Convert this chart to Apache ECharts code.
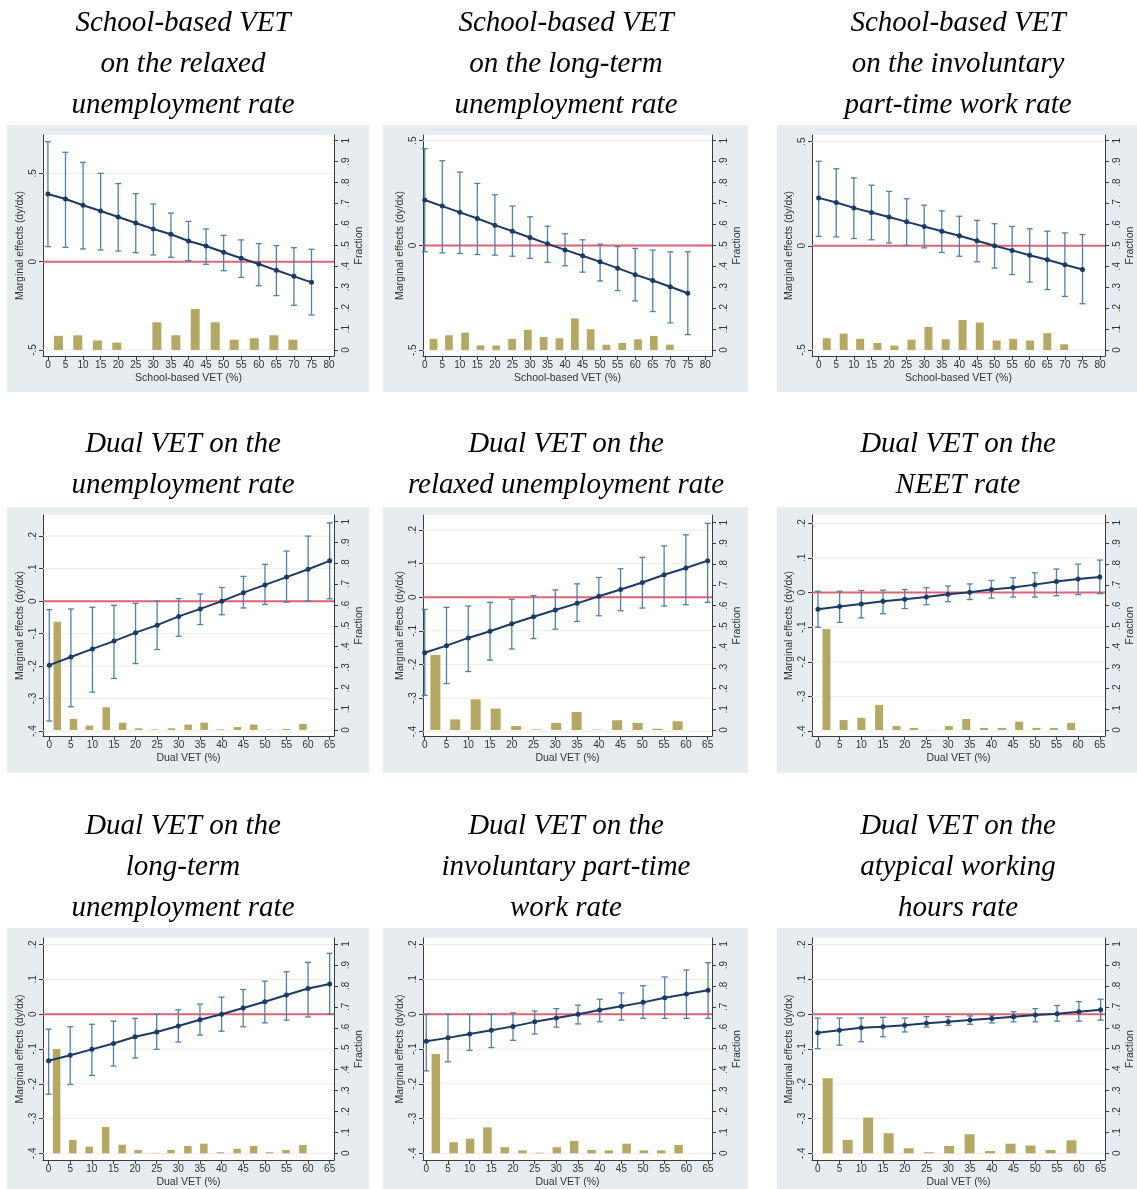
<!DOCTYPE html>
<html>
<head>
<meta charset="UTF-8">
<title>Marginal effects of school-based and dual VET</title>
<script src="https://cdn.jsdelivr.net/npm/echarts@6/dist/echarts.min.js"></script>
<style>
  html, body { margin: 0; padding: 0; background: #fff; }
  #chart { width: 1137px; height: 1189px; }
</style>
</head>
<body>
<div id="chart"></div>
<script>
// x positions of the estimates
var schoolX = [0, 5, 10, 15, 20, 25, 30, 35, 40, 45, 50, 55, 60, 65, 70, 75];
var dualX = [0, 5, 10, 15, 20, 25, 30, 35, 40, 45, 50, 55, 60, 65];

// tick labels
var schoolXTicks = [0, 5, 10, 15, 20, 25, 30, 35, 40, 45, 50, 55, 60, 65, 70, 75, 80];
var dualXTicks = [0, 5, 10, 15, 20, 25, 30, 35, 40, 45, 50, 55, 60, 65];
var schoolYTicks = [-0.5, 0, 0.5];
var dualYTicks = [-0.4, -0.3, -0.2, -0.1, 0, 0.1, 0.2];
var fracTicks = [0, 0.1, 0.2, 0.3, 0.4, 0.5, 0.6, 0.7, 0.8, 0.9, 1];

// 1. school-based VET -> relaxed unemployment
var p1Mean  = [0.383, 0.355, 0.319, 0.287, 0.253, 0.219, 0.185, 0.155, 0.117, 0.089, 0.053, 0.019, -0.013, -0.049, -0.083, -0.117];
var p1Upper = [0.679, 0.619, 0.562, 0.500, 0.442, 0.385, 0.326, 0.275, 0.228, 0.185, 0.149, 0.123, 0.102, 0.091, 0.079, 0.070];
var p1Lower = [0.085, 0.081, 0.072, 0.066, 0.060, 0.051, 0.038, 0.025, 0.006, -0.015, -0.051, -0.089, -0.136, -0.192, -0.247, -0.302];
var p1Bins  = [3.0, 8.5, 14.1, 19.6, 31.0, 36.4, 41.9, 47.6, 53.0, 58.7, 64.3, 69.7];
var p1Frac  = [0.067, 0.070, 0.045, 0.035, 0.132, 0.070, 0.196, 0.132, 0.049, 0.056, 0.070, 0.049];

// 2. school-based VET -> long-term unemployment
var p2Mean  = [0.217, 0.188, 0.158, 0.129, 0.097, 0.068, 0.038, 0.008, -0.021, -0.049, -0.078, -0.108, -0.139, -0.167, -0.197, -0.228];
var p2Upper = [0.462, 0.404, 0.350, 0.296, 0.242, 0.188, 0.137, 0.092, 0.056, 0.027, 0.006, -0.005, -0.014, -0.022, -0.030, -0.030];
var p2Lower = [-0.030, -0.035, -0.038, -0.043, -0.046, -0.051, -0.061, -0.080, -0.097, -0.127, -0.169, -0.215, -0.264, -0.315, -0.369, -0.425];
var p2Bins  = [2.5, 6.9, 11.5, 15.9, 20.4, 24.9, 29.4, 33.9, 38.4, 42.8, 47.3, 51.8, 56.3, 60.8, 65.3, 69.9];
var p2Frac  = [0.053, 0.070, 0.083, 0.022, 0.021, 0.053, 0.096, 0.062, 0.056, 0.151, 0.099, 0.025, 0.033, 0.051, 0.067, 0.025];

// 3. school-based VET -> involuntary part-time
var p3Mean  = [0.230, 0.208, 0.182, 0.160, 0.138, 0.115, 0.093, 0.070, 0.048, 0.024, 0.000, -0.022, -0.045, -0.067, -0.091, -0.114];
var p3Upper = [0.406, 0.370, 0.326, 0.291, 0.261, 0.226, 0.195, 0.168, 0.142, 0.122, 0.106, 0.093, 0.082, 0.070, 0.062, 0.054];
var p3Lower = [0.045, 0.043, 0.035, 0.029, 0.013, 0.002, -0.010, -0.032, -0.050, -0.077, -0.107, -0.138, -0.174, -0.210, -0.243, -0.278];
var p3Bins  = [2.3, 7.1, 11.8, 16.7, 21.5, 26.4, 31.2, 36.1, 40.9, 45.8, 50.6, 55.3, 60.1, 65.0, 69.8];
var p3Frac  = [0.056, 0.078, 0.053, 0.033, 0.021, 0.049, 0.110, 0.051, 0.143, 0.131, 0.045, 0.053, 0.045, 0.080, 0.027];

// 4. dual VET -> unemployment
var p4Mean  = [-0.197, -0.172, -0.147, -0.123, -0.097, -0.074, -0.047, -0.024, 0.000, 0.026, 0.050, 0.074, 0.098, 0.124];
var p4Upper = [-0.026, -0.024, -0.019, -0.013, -0.007, 0.000, 0.008, 0.022, 0.042, 0.076, 0.113, 0.154, 0.200, 0.241];
var p4Lower = [-0.369, -0.325, -0.280, -0.238, -0.192, -0.149, -0.108, -0.072, -0.042, -0.021, -0.010, -0.003, 0.000, 0.007];
var p4Bins  = [1.85, 5.6, 9.3, 13.2, 17.0, 20.7, 24.5, 28.3, 32.2, 35.9, 39.7, 43.6, 47.4, 51.1, 54.9, 58.8];
var p4Frac  = [0.520, 0.053, 0.021, 0.109, 0.035, 0.008, 0.003, 0.008, 0.026, 0.035, 0.003, 0.014, 0.026, 0.002, 0.005, 0.029];

// 5. dual VET -> relaxed unemployment
var p5Mean  = [-0.165, -0.144, -0.121, -0.101, -0.079, -0.058, -0.038, -0.018, 0.003, 0.023, 0.044, 0.067, 0.087, 0.109];
var p5Upper = [-0.036, -0.030, -0.026, -0.015, -0.006, 0.005, 0.022, 0.040, 0.059, 0.085, 0.119, 0.153, 0.186, 0.220];
var p5Lower = [-0.292, -0.257, -0.221, -0.187, -0.154, -0.123, -0.095, -0.072, -0.055, -0.040, -0.032, -0.026, -0.022, -0.015];
var p5Bins  = [2.45, 7.0, 11.7, 16.3, 21.0, 25.6, 30.2, 34.9, 39.5, 44.2, 48.9, 53.5, 58.1];
var p5Frac  = [0.362, 0.051, 0.148, 0.103, 0.019, 0.003, 0.034, 0.087, 0.002, 0.047, 0.034, 0.006, 0.042];

// 6. dual VET -> NEET
var p6Mean  = [-0.048, -0.040, -0.033, -0.025, -0.019, -0.013, -0.005, 0.001, 0.009, 0.015, 0.023, 0.032, 0.039, 0.045];
var p6Upper = [0.004, 0.004, 0.006, 0.007, 0.009, 0.014, 0.019, 0.025, 0.035, 0.043, 0.057, 0.068, 0.082, 0.094];
var p6Lower = [-0.100, -0.086, -0.073, -0.061, -0.046, -0.035, -0.026, -0.020, -0.016, -0.013, -0.013, -0.009, -0.006, -0.003];
var p6Bins  = [1.96, 5.9, 10.0, 14.1, 18.1, 22.1, 26.2, 30.2, 34.2, 38.3, 42.4, 46.4, 50.4, 54.4, 58.4];
var p6Frac  = [0.487, 0.048, 0.059, 0.121, 0.019, 0.010, 0.001, 0.019, 0.053, 0.010, 0.010, 0.040, 0.010, 0.010, 0.034];

// 7. dual VET -> long-term unemployment
var p7Mean  = [-0.134, -0.118, -0.101, -0.084, -0.065, -0.051, -0.034, -0.016, 0.000, 0.018, 0.036, 0.055, 0.074, 0.087];
var p7Upper = [-0.043, -0.036, -0.029, -0.020, -0.012, 0.000, 0.013, 0.029, 0.049, 0.071, 0.095, 0.122, 0.149, 0.175];
var p7Lower = [-0.230, -0.202, -0.176, -0.149, -0.126, -0.101, -0.080, -0.060, -0.049, -0.036, -0.025, -0.017, -0.008, 0.000];
var p7Bins  = [1.85, 5.6, 9.4, 13.2, 17.0, 20.7, 24.5, 28.3, 32.2, 35.9, 39.7, 43.6, 47.4, 51.1, 54.9, 58.8];
var p7Frac  = [0.498, 0.064, 0.032, 0.126, 0.041, 0.016, 0.002, 0.016, 0.035, 0.046, 0.005, 0.022, 0.035, 0.005, 0.016, 0.040];

// 8. dual VET -> involuntary part-time
var p8Mean  = [-0.078, -0.068, -0.057, -0.046, -0.035, -0.022, -0.011, 0.000, 0.012, 0.023, 0.034, 0.047, 0.058, 0.069];
var p8Upper = [0.000, 0.000, 0.000, 0.000, 0.004, 0.009, 0.016, 0.026, 0.043, 0.061, 0.082, 0.107, 0.127, 0.148];
var p8Lower = [-0.163, -0.137, -0.104, -0.096, -0.075, -0.057, -0.037, -0.028, -0.022, -0.017, -0.012, -0.012, -0.012, -0.012];
var p8Bins  = [2.2, 6.3, 10.1, 14.1, 18.1, 22.2, 26.1, 30.1, 34.1, 38.1, 42.1, 46.2, 50.2, 54.2, 58.2];
var p8Frac  = [0.475, 0.053, 0.070, 0.124, 0.029, 0.014, 0.003, 0.029, 0.059, 0.016, 0.014, 0.046, 0.014, 0.014, 0.040];

// 9. dual VET -> atypical working hours
var p9Mean  = [-0.053, -0.046, -0.039, -0.036, -0.032, -0.026, -0.022, -0.017, -0.012, -0.007, -0.002, 0.001, 0.007, 0.013];
var p9Upper = [-0.011, -0.011, -0.011, -0.009, -0.011, -0.007, -0.007, -0.005, -0.003, 0.007, 0.016, 0.025, 0.036, 0.043];
var p9Lower = [-0.099, -0.089, -0.079, -0.065, -0.051, -0.037, -0.032, -0.029, -0.025, -0.022, -0.022, -0.020, -0.020, -0.017];
var p9Bins  = [2.3, 6.9, 11.6, 16.3, 20.9, 25.5, 30.2, 34.9, 39.6, 44.3, 48.9, 53.5, 58.3];
var p9Frac  = [0.359, 0.064, 0.171, 0.096, 0.024, 0.005, 0.035, 0.091, 0.011, 0.046, 0.037, 0.016, 0.062];

// panel titles
var titles = [
  'School-based VET\non the relaxed\nunemployment rate',
  'School-based VET\non the long-term\nunemployment rate',
  'School-based VET\non the involuntary\npart-time work rate',
  'Dual VET on the\nunemployment rate',
  'Dual VET on the\nrelaxed unemployment rate',
  'Dual VET on the\nNEET rate',
  'Dual VET on the\nlong-term\nunemployment rate',
  'Dual VET on the\ninvoluntary part-time\nwork rate',
  'Dual VET on the\natypical working\nhours rate'
];

// page layout (pixels)
var colBg   = [[7, 369], [383, 748], [777, 1137]];
var colPlot = [[43, 334], [423, 712], [812, 1105]];
var rowBg   = [[125, 392], [507, 773], [928, 1189]];
var rowPlot = [[135, 356], [515, 736], [938, 1160]];
var titleX  = [183, 566, 958];
var titleY  = [3, 424, 806];

var school = { xs: schoolX, xTicks: schoolXTicks, yTicks: schoolYTicks, xName: 'School-based VET (%)' };
var dual   = { xs: dualX, xTicks: dualXTicks, yTicks: dualYTicks, xName: 'Dual VET (%)' };

var panels = [
  { g: school, mean: p1Mean, hi: p1Upper, lo: p1Lower, bins: p1Bins, frac: p1Frac, xr: [-1.4, 81.4], yr: [-0.534, 0.717], fr: [-0.029, 1.027], bw: 9 },
  { g: school, mean: p2Mean, hi: p2Upper, lo: p2Lower, bins: p2Bins, frac: p2Frac, xr: [-0.5, 81.9], yr: [-0.527, 0.527], fr: [-0.029, 1.027], bw: 7.7 },
  { g: school, mean: p3Mean, hi: p3Upper, lo: p3Lower, bins: p3Bins, frac: p3Frac, xr: [-1.9, 81.4], yr: [-0.529, 0.532], fr: [-0.029, 1.027], bw: 8 },
  { g: dual, mean: p4Mean, hi: p4Upper, lo: p4Lower, bins: p4Bins, frac: p4Frac, xr: [-1.46, 66.0], yr: [-0.415, 0.265], fr: [-0.029, 1.032], bw: 7.5 },
  { g: dual, mean: p5Mean, hi: p5Upper, lo: p5Lower, bins: p5Bins, frac: p5Frac, xr: [-0.4, 66.0], yr: [-0.413, 0.245], fr: [-0.029, 1.037], bw: 10 },
  { g: dual, mean: p6Mean, hi: p6Upper, lo: p6Lower, bins: p6Bins, frac: p6Frac, xr: [-1.38, 66.2], yr: [-0.414, 0.224], fr: [-0.029, 1.037], bw: 8 },
  { g: dual, mean: p7Mean, hi: p7Upper, lo: p7Lower, bins: p7Bins, frac: p7Frac, xr: [-1.3, 66.0], yr: [-0.419, 0.219], fr: [-0.032, 1.029], bw: 7.5 },
  { g: dual, mean: p8Mean, hi: p8Upper, lo: p8Lower, bins: p8Bins, frac: p8Frac, xr: [-0.76, 65.9], yr: [-0.419, 0.219], fr: [-0.032, 1.029], bw: 8.5 },
  { g: dual, mean: p9Mean, hi: p9Upper, lo: p9Lower, bins: p9Bins, frac: p9Frac, xr: [-1.3, 66.0], yr: [-0.419, 0.219], fr: [-0.032, 1.029], bw: 10 }
];

var PANEL_BG = '#e6ecf0';
var AXIS = '#3a3a3a';
var LABEL = '#333';
var NAVY = '#1d3a63';
var CAP = '#5280aa';
var BAR = '#b5a864';
var ZERO = '#df6274';
var GRID = '#ececec';
var SANS = 'Liberation Sans, Arial, sans-serif';

// Stata-style numbers: .5, -.3, 0
function stataLabel(v) {
  if (v === 0) return '0';
  var s = String(Math.abs(v)).replace(/^0\./, '.');
  return (v < 0 ? '-' : '') + s;
}

// horizontal gridlines + red zero line
function renderHLine(params, api) {
  var v = api.value(1);
  var y = api.coord([api.value(0), v])[1];
  var cs = params.coordSys;
  var zero = v === 0;
  return {
    type: 'line',
    shape: { x1: cs.x, y1: y, x2: cs.x + cs.width, y2: y },
    style: { stroke: zero ? ZERO : GRID, lineWidth: zero ? 2 : 1 }
  };
}

// confidence interval with caps
function renderCap(params, api) {
  var x = api.value(0);
  var lo = api.coord([x, api.value(1)]);
  var hi = api.coord([x, api.value(2)]);
  var w = 3;
  var st = { stroke: CAP, lineWidth: 1.3 };
  return {
    type: 'group',
    children: [
      { type: 'line', shape: { x1: hi[0], y1: hi[1], x2: lo[0], y2: lo[1] }, style: st },
      { type: 'line', shape: { x1: hi[0] - w, y1: hi[1], x2: hi[0] + w, y2: hi[1] }, style: st },
      { type: 'line', shape: { x1: lo[0] - w, y1: lo[1], x2: lo[0] + w, y2: lo[1] }, style: st }
    ]
  };
}

var grids = [], xAxes = [], yAxes = [], series = [], graphics = [];

panels.forEach(function (p, i) {
  var r = Math.floor(i / 3), c = i % 3;
  var g = p.g;

  graphics.push({
    type: 'rect', z: -10,
    shape: { x: colBg[c][0], y: rowBg[r][0], width: colBg[c][1] - colBg[c][0], height: rowBg[r][1] - rowBg[r][0] },
    style: { fill: PANEL_BG }
  });
  graphics.push({
    type: 'rect', z: -9,
    shape: { x: colPlot[c][0], y: rowPlot[r][0], width: colPlot[c][1] - colPlot[c][0], height: rowPlot[r][1] - rowPlot[r][0] },
    style: { fill: '#fff' }
  });
  graphics.push({
    type: 'text', z: 10,
    x: titleX[c], y: titleY[r],
    style: {
      text: titles[i], align: 'center', verticalAlign: 'top',
      fontFamily: '"Liberation Serif", "Times New Roman", serif', fontStyle: 'italic',
      fontSize: 29, lineHeight: 41, fill: '#000'
    }
  });

  grids.push({
    left: colPlot[c][0], top: rowPlot[r][0],
    width: colPlot[c][1] - colPlot[c][0], height: rowPlot[r][1] - rowPlot[r][0],
    containLabel: false, outerBoundsMode: 'none'
  });

  xAxes.push({
    type: 'value', gridIndex: i, min: p.xr[0], max: p.xr[1],
    axisLine: { onZero: false, lineStyle: { color: AXIS, width: 1 } },
    axisTick: { show: true, customValues: g.xTicks, length: 4, lineStyle: { color: AXIS } },
    axisLabel: { customValues: g.xTicks, fontSize: 10, color: LABEL, margin: 4, fontFamily: SANS },
    splitLine: { show: false },
    name: g.xName, nameLocation: 'middle', nameGap: 17,
    nameTextStyle: { fontSize: 10.5, color: LABEL, fontFamily: SANS }
  });

  yAxes.push({
    type: 'value', gridIndex: i, position: 'left', min: p.yr[0], max: p.yr[1],
    axisLine: { show: true, onZero: false, lineStyle: { color: AXIS, width: 1 } },
    axisTick: { show: true, customValues: g.yTicks, length: 4, lineStyle: { color: AXIS } },
    axisLabel: { customValues: g.yTicks, rotate: 90, formatter: stataLabel, fontSize: 10, color: LABEL, margin: 5, fontFamily: SANS },
    splitLine: { show: false },
    name: 'Marginal effects (dy/dx)', nameLocation: 'middle', nameGap: 17, nameRotate: 90,
    nameTextStyle: { fontSize: 10.5, color: LABEL, fontFamily: SANS }
  });
  yAxes.push({
    type: 'value', gridIndex: i, position: 'right', min: p.fr[0], max: p.fr[1],
    axisLine: { show: true, onZero: false, lineStyle: { color: AXIS, width: 1 } },
    axisTick: { show: true, customValues: fracTicks, length: 4, lineStyle: { color: AXIS } },
    axisLabel: { customValues: fracTicks, rotate: 90, formatter: stataLabel, fontSize: 10, color: LABEL, margin: 7, fontFamily: SANS },
    splitLine: { show: false },
    name: 'Fraction', nameLocation: 'middle', nameGap: 20, nameRotate: 90,
    nameTextStyle: { fontSize: 10.5, color: LABEL, fontFamily: SANS }
  });

  var yi = 2 * i;

  series.push({
    type: 'custom', xAxisIndex: i, yAxisIndex: yi, silent: true, z: 1,
    renderItem: renderHLine,
    encode: { x: 0, y: 1 },
    data: g.yTicks.map(function (v) { return [p.xr[0], v]; })
  });
  series.push({
    type: 'bar', xAxisIndex: i, yAxisIndex: yi + 1, silent: true, z: 2,
    barWidth: p.bw, itemStyle: { color: BAR },
    data: p.bins.map(function (x, k) { return [x, p.frac[k]]; })
  });
  series.push({
    type: 'custom', xAxisIndex: i, yAxisIndex: yi, silent: true, z: 4,
    renderItem: renderCap,
    encode: { x: 0, y: [1, 2] },
    data: g.xs.map(function (x, k) { return [x, p.lo[k], p.hi[k]]; })
  });
  series.push({
    type: 'line', xAxisIndex: i, yAxisIndex: yi, silent: true, z: 5,
    symbol: 'circle', symbolSize: 5,
    lineStyle: { color: NAVY, width: 2 },
    itemStyle: { color: NAVY },
    data: g.xs.map(function (x, k) { return [x, p.mean[k]]; })
  });
});

var chart = echarts.init(document.getElementById('chart'), null, { renderer: 'canvas' });
chart.setOption({
  animation: false,
  backgroundColor: '#fff',
  graphic: { elements: graphics },
  grid: grids,
  xAxis: xAxes,
  yAxis: yAxes,
  series: series
});
</script>
</body>
</html>
